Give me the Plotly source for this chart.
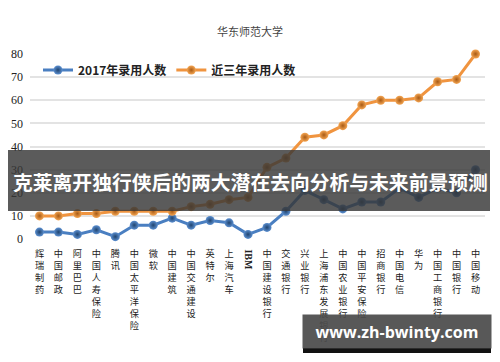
import plotly.graph_objects as go

categories = ["辉瑞制药", "中国邮政", "阿里巴巴", "中国人寿保险", "腾讯", "中国太平洋保险", "微软",
              "中国建筑", "中国交通建设", "英特尔", "上海汽车", "IBM", "中国建设银行", "交通银行",
              "兴业银行", "上海浦东发展银行", "中国农业银行", "中国平安保险", "招商银行", "中国电信",
              "华为", "中国工商银行", "中国银行", "中国移动"]
hires_2017 = [3, 3, 2, 4, 1, 6, 6, 9, 6, 8, 7, 2, 5, 12, 21, 17, 13, 16, 16, 22, 18, 22, 20, 30]
hires_3yr = [10, 10, 11, 11, 12, 12, 12, 12, 14, 15, 17, 18, 31, 35, 44, 45, 49, 58, 60, 60, 61, 68, 69, 80]
y_ticks = [0, 10, 20, 30, 40, 50, 60, 70, 80]
series_names = ["2017年录用人数", "近三年录用人数"]

# plot-area geometry in pixels (for placing overlays)
L, R, T, B = 30, 485, 54, 239
def px(x):
    return (x - L) / (R - L)
def py(y):
    return (B - y) / (B - T)

idx = list(range(len(categories)))
tick_text = ["" if c == "IBM" else "<br>".join(list(c)) for c in categories]

fig = go.Figure()
fig.add_trace(go.Scatter(
    x=idx, y=hires_2017, mode="lines+markers", name="<b>" + series_names[0] + "</b>",
    line=dict(color="#4a7fc1", width=3),
    marker=dict(size=9, color="#5b8fd0", gradient=dict(type="radial", color="#20446f")),
    cliponaxis=False))
fig.add_trace(go.Scatter(
    x=idx, y=hires_3yr, mode="lines+markers", name="<b>" + series_names[1] + "</b>",
    line=dict(color="#f0943f", width=3),
    marker=dict(size=9, color="#f4a552", gradient=dict(type="radial", color="#a85a14")),
    cliponaxis=False))

fig.update_layout(
    width=500, height=362,
    margin=dict(l=L, r=500 - R, t=T, b=362 - B),
    paper_bgcolor="white", plot_bgcolor="white",
    showlegend=True,
    legend=dict(orientation="h", x=px(38), y=py(70), xanchor="left", yanchor="middle",
                font=dict(family="Noto Sans CJK SC", size=12, color="#222"),
                bgcolor="rgba(0,0,0,0)", itemwidth=30, tracegroupgap=0),
    font=dict(family="Noto Sans CJK SC"),
)
fig.update_xaxes(
    type="linear", range=[-0.5, len(categories) - 0.5],
    tickmode="array", tickvals=idx, ticktext=tick_text,
    tickangle=0, showgrid=False, zeroline=False, showline=False, ticks="",
    tickfont=dict(family="Noto Sans CJK SC", size=9.2, color="#222"),
    ticklabelstandoff=8,
)
fig.update_yaxes(
    range=[0, 80], tickmode="array", tickvals=y_ticks,
    showgrid=True, gridcolor="#e3e3e3", gridwidth=1.5, zeroline=False, showline=False,
    tickfont=dict(family="Liberation Serif", size=12, color="#222"),
    ticklabelstandoff=6,
)

ann = []
# title
ann.append(dict(text="华东师范大学", xref="paper", yref="paper", x=px(250), y=py(31),
                xanchor="center", yanchor="middle",
                showarrow=False, font=dict(family="Noto Sans CJK SC", size=11, color="#444")))
# rotated IBM tick label
ann.append(dict(text="<b>IBM</b>", xref="x", yref="paper", x=categories.index("IBM"), y=py(247),
                yanchor="top", showarrow=False, textangle=90,
                font=dict(family="Liberation Serif", size=10, color="#222")))
# banner
ann.append(dict(text="<b>克莱离开独行侠后的两大潜在去向分析与未来前景预测</b>", xref="paper", yref="paper",
                x=px(250), y=py(181), showarrow=False, xanchor="center", yanchor="middle",
                font=dict(family="Noto Sans CJK SC", size=19.8, color="white")))
# watermark
ann.append(dict(text="<b>www.zh-bwinty.com</b>", xref="paper", yref="paper",
                x=px(397), y=py(331.5), showarrow=False, xanchor="center", yanchor="middle",
                width=184, height=29, bgcolor="rgba(75,75,75,0.93)", borderpad=2,
                font=dict(family="Open Sans", size=16, color="white")))

shapes = [
    dict(type="rect", xref="paper", yref="paper", x0=px(8), x1=px(490), y0=py(211), y1=py(150),
         fillcolor="rgba(55,55,55,0.82)", line=dict(width=0), layer="above"),
    dict(type="rect", xref="paper", yref="paper", x0=px(303), x1=px(491), y0=py(353), y1=py(348),
         fillcolor="#111", line=dict(width=0), layer="above"),
]
fig.update_layout(annotations=ann, shapes=shapes)

fig.write_html("out.html")
